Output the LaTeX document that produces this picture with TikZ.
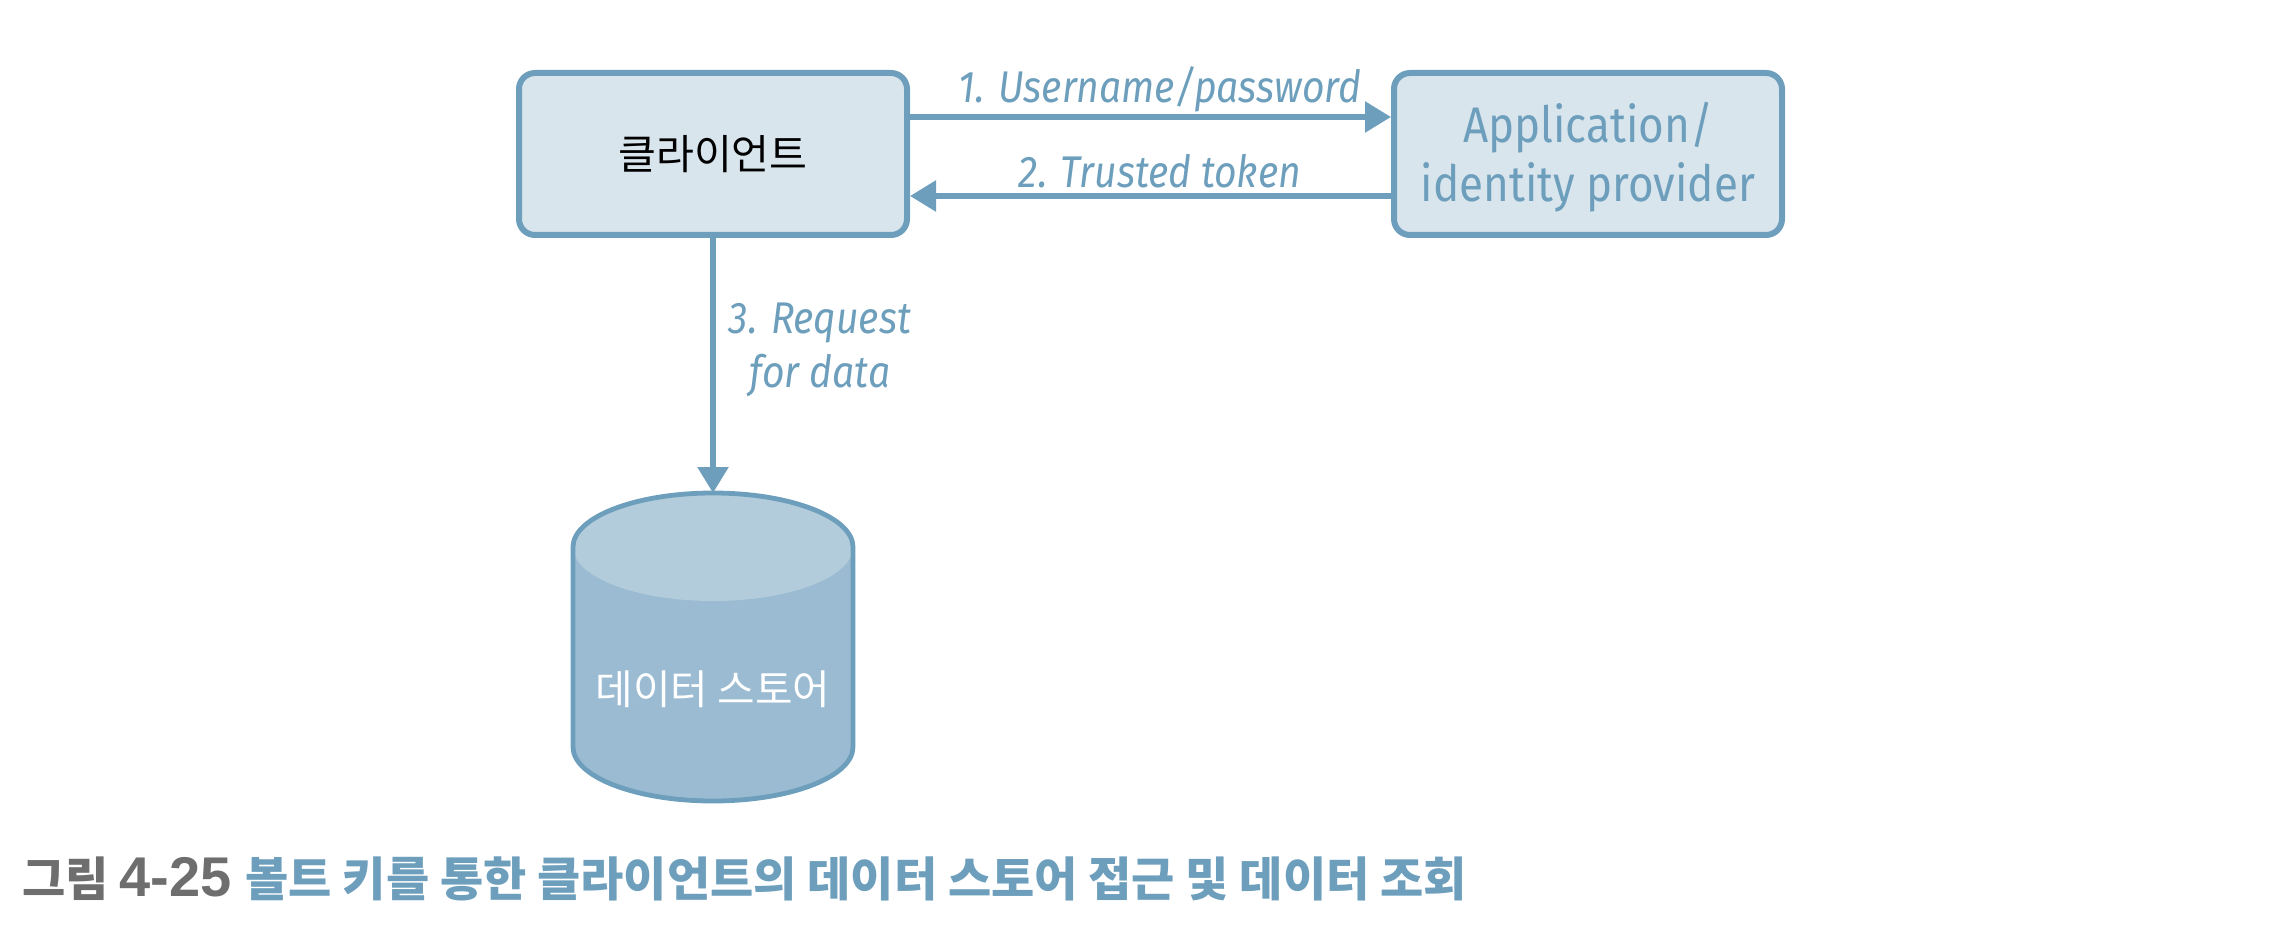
\documentclass[tikz,border=0pt]{standalone}
\usepackage{fontspec}
\setmainfont[FakeStretch=0.88]{Fira Sans}
\newfontfamily\korean{Noto Sans CJK KR}
\newfontfamily\latin{Liberation Sans}
\usetikzlibrary{arrows.meta}

\definecolor{boxline}{HTML}{6D9FBD}
\definecolor{boxfill}{HTML}{D9E5ED}
\definecolor{canbody}{HTML}{9ABBD1}
\definecolor{cantop}{HTML}{B2CCDB}
\definecolor{figgray}{HTML}{6E6E6E}

\tikzset{
    service/.style={draw=boxline, line width=3pt, fill=boxfill, rounded corners=8pt,
        minimum width=194pt, minimum height=81pt, inner sep=0pt, align=center},
    flow/.style={draw=boxline, line width=2.8pt, -{Triangle[length=13pt,width=15pt]}},
    flowlabel/.style={text=boxline, font=\itshape\fontsize{22.2}{27}\selectfont, align=center, inner sep=0pt},
}

\begin{document}
\begin{tikzpicture}[x=0.5pt, y=-0.5pt]
    \useasboundingbox (0,0) rectangle (2288,936);

    \node[service, font=\korean\fontsize{20.6}{24}\selectfont] (client) at (713,154) {클라이언트};
    \node[service] (provider) at (1588,154) {};
    \node[text=boxline, font=\fontsize{25}{29.5}\selectfont, align=center, inner sep=0pt] (providername) at (1588,157) {Application/\\identity provider};

    %%%%%%%%%%%%%%%%%%%%%%%%%%%%%%
    \fill[canbody] (573,547) -- (573,747) arc[start angle=180, end angle=0, x radius=140, y radius=54]
        -- (853,547) -- cycle;
    \fill[cantop] (713,547) circle[x radius=140, y radius=54];
    \draw[boxline, line width=2.4pt] (573,747) -- (573,547) arc[start angle=180, end angle=360, x radius=140, y radius=54]
        -- (853,747) arc[start angle=0, end angle=180, x radius=140, y radius=54];
    \coordinate (storetop) at (713,493);
    \node[text=white, font=\korean\fontsize{20.4}{24}\selectfont, inner sep=0pt] (store) at (713,689) {데이터 스토어};

    %%%%%%%%%%%%%%%%%%%%%%%%%%%%%%
    \coordinate (a1) at (client.east |- 0,117);
    \coordinate (b1) at (provider.west |- 0,117);
    \coordinate (a2) at (client.east |- 0,196);
    \coordinate (b2) at (provider.west |- 0,196);
    \draw[flow] (a1) -- (b1);
    \draw[flow] (b2) -- (a2);
    \draw[flow] (client) -- (storetop);

    \node[flowlabel] (step1) at (1160,89) {1. Username/password};
    \node[flowlabel] (step2) at (1160,171) {2. Trusted token};
    \node[flowlabel] (step3) at (820,350) {3. Request\\for data};

    %%%%%%%%%%%%%%%%%%%%%%%%%%%%%%
    \node[anchor=west, inner sep=0pt, font=\korean\bfseries\fontsize{23.5}{28}\selectfont] (caption) at (22,879)
        {\textcolor{figgray}{그림 {\latin\fontsize{28}{28}\selectfont 4-25}}\hspace{7pt}\textcolor{boxline}{볼트 키를 통한 클라이언트의 데이터 스토어 접근 및 데이터 조회}};
\end{tikzpicture}
\end{document}
